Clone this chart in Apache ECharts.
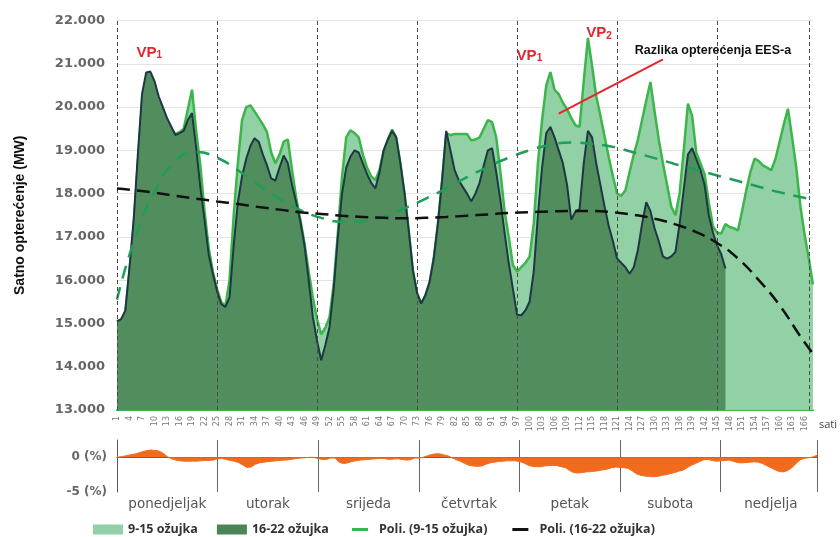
<!DOCTYPE html>
<html>
<head>
<meta charset="utf-8">
<script src="https://cdn.jsdelivr.net/npm/echarts@6/dist/echarts.min.js"></script>
<style>
  html, body { margin: 0; padding: 0; background: #ffffff; }
  #chart { width: 840px; height: 537px; }
</style>
</head>
<body>
<div id="chart"></div>
<script>
// Hour categories of the week (1..168) and day names for the lower panel
const hours = Array.from({ length: 168 }, (_, i) => String(i + 1));
const dayNames = ['ponedjeljak', 'utorak', 'srijeda', 'četvrtak', 'petak', 'subota', 'nedjelja'];

// Hourly system load, week 9-15 March (MW)
const load0915 = [
  15050, 15080, 15250, 16200, 17250, 18700, 20100, 20600, 20620, 20420,
  20100, 19900, 19700, 19500, 19380, 19420, 19500, 19950, 20400, 19450,
  18650, 17600, 16750, 16200, 15800, 15500, 15400, 16000, 17500, 18700,
  19700, 20000, 20040, 19900, 19750, 19600, 19420, 18950, 18700, 18900,
  19200, 19250, 18550, 17900, 17400, 16850, 16200, 15600, 15100, 14750,
  14900, 15150, 15900, 17100, 18400, 19300, 19460, 19400, 19300, 18900,
  18600, 18400, 18310, 18550, 19000, 19250, 19480, 19300, 18700, 18000,
  17150, 16230, 15700, 15460, 15650, 15950, 16500, 17300, 18300, 19400,
  19350, 19380, 19380, 19380, 19380, 19230, 19250, 19300, 19500, 19700,
  19650, 19300, 18500, 17600, 17000, 16350, 16200, 16300, 16400, 16540,
  17300, 18700, 19700, 20500, 20810, 20400, 20300, 20100, 19950, 19750,
  19580, 19540, 20600, 21600, 20950, 20250, 19800, 19320, 18840, 18400,
  18000, 17950, 18080, 18500, 18900, 19250, 19700, 20150, 20580, 19900,
  19250, 18700, 18200, 17700, 17500, 18000, 19000, 20080, 19800, 18950,
  18700, 18450, 17800, 17250, 17100, 17080, 17300, 17230, 17200, 17150,
  17600, 18080, 18500, 18810, 18750, 18650, 18600, 18540, 18800, 19200,
  19600, 19960, 19300, 18600, 17700, 17050, 16500, 15900
];

// Hourly system load, week 16-22 March (MW), available up to hour 147
const load1622 = [
  15050, 15100, 15300, 16300, 17400, 18900, 20300, 20800, 20820, 20600,
  20250, 20000, 19750, 19550, 19350, 19400, 19450, 19700, 19860, 19050,
  18150, 17400, 16600, 16150, 15750, 15450, 15380, 15600, 16800, 17800,
  18400, 18800, 19100, 19280, 19200, 18900, 18650, 18350, 18300, 18600,
  18880, 18700, 18200, 17800, 17350, 16800, 16000, 15150, 14600, 14150,
  14500, 14920, 15800, 17000, 18000, 18600, 18850, 19000, 18950, 18700,
  18450, 18250, 18120, 18500, 19000, 19250, 19450, 19300, 18700, 18000,
  17150, 16230, 15700, 15460, 15650, 15950, 16500, 17300, 18300, 19450,
  19000, 18550, 18310, 18150, 18000, 17820, 18000, 18250, 18650, 19000,
  19050, 18500, 17850, 17100, 16400, 15800, 15200, 15190, 15300, 15500,
  16200, 17500, 18600, 19400, 19540, 19300, 19000, 18700, 18200, 17400,
  17580, 17650, 18700, 19450, 19300, 18700, 18200, 17700, 17250, 16900,
  16500, 16400, 16300, 16150, 16300, 16700, 17300, 17800, 17600, 17200,
  16900, 16550, 16500, 16550, 16650, 17300, 18100, 18900, 19050, 18800,
  18550, 18200, 17500, 17100, 16800, 16600, 16270
];

// Hourly load difference between the weeks (%)
const diffPct = [
  0, 0.1, 0.2, 0.35, 0.45, 0.6, 0.8, 0.95, 1.05, 1.0,
  0.9, 0.6, 0.1, -0.2, -0.4, -0.5, -0.55, -0.55, -0.55, -0.55,
  -0.5, -0.45, -0.45, -0.4, -0.2, -0.15, -0.3, -0.45, -0.55, -0.75,
  -1.1, -1.45, -1.4, -1.0, -0.8, -0.7, -0.62, -0.55, -0.5, -0.45,
  -0.4, -0.35, -0.25, -0.15, -0.1, -0.05, 0, 0, -0.2, -0.3,
  -0.3, -0.1, -0.1, -0.7, -0.9, -0.8, -0.6, -0.5, -0.4, -0.35,
  -0.3, -0.25, -0.2, -0.15, -0.2, -0.3, -0.25, -0.2, -0.3, -0.4,
  -0.35, -0.1, -0.1, 0, 0.2, 0.4, 0.5, 0.5, 0.35, 0.2,
  -0.1, -0.35, -0.6, -0.9, -1.15, -1.25, -1.3, -1.25, -1.0, -0.8,
  -0.7, -0.6, -0.55, -0.5, -0.5, -0.5, -0.6, -0.8, -1.1, -1.3,
  -1.35, -1.35, -1.25, -1.2, -1.15, -1.2, -1.35, -1.5, -1.9, -2.2,
  -2.25, -2.2, -2.1, -2.05, -2.0, -1.9, -1.8, -1.7, -1.5, -1.4,
  -1.45, -1.5, -1.6, -2.0, -2.4, -2.6, -2.7, -2.75, -2.8, -2.75,
  -2.6, -2.5, -2.35, -2.2, -2.0, -1.85, -1.5, -1.15, -0.9, -0.6,
  -0.35, -0.3, -0.45, -0.55, -0.5, -0.45, -0.4, -0.55, -0.75, -0.8,
  -0.75, -0.7, -0.65, -0.7, -0.9, -1.2, -1.5, -1.8, -2.05, -2.1,
  -1.9, -1.5, -0.9, -0.35, -0.15, -0.05, 0.05, 0.3
];

// Polynomial trend lines, sampled at these hours
const trendHours = [1, 5, 10, 15, 20, 25, 30, 35, 40, 45, 50, 55, 60, 65, 70, 75, 80, 85,
  90, 95, 100, 105, 110, 115, 120, 125, 130, 135, 140, 145, 150, 155, 160, 165, 168];
const trend0915 = [15550, 16880, 18050, 18750, 18960, 18830, 18540, 18200, 17880, 17620,
  17440, 17350, 17360, 17460, 17660, 17880, 18120, 18380, 18620, 18830, 19000, 19130,
  19180, 19150, 19080, 18950, 18820, 18680, 18550, 18420, 18290, 18160, 18030, 17920, 17860];
const trend1622 = [18120, 18080, 18020, 17950, 17880, 17820, 17760, 17690, 17630, 17570,
  17530, 17490, 17460, 17440, 17430, 17440, 17460, 17490, 17520, 17550, 17570, 17590,
  17600, 17600, 17570, 17510, 17420, 17290, 17110, 16860, 16500, 16000, 15420, 14700, 14300];

// Hours where each day starts (dashed separators)
const dayStartHours = [1, 25, 49, 73, 97, 121, 145, 167];

const C = {
  lightFill: '#92d1a6',
  lightLine: '#3cb54a',
  darkFill: '#528d5e',
  darkLine: '#1d3744',
  polyGreen: '#1e9e57',
  polyBlack: '#111111',
  orange: '#f26b1d',
  red: '#e3262c'
};

const fmtThousands = v => Math.floor(v / 1000) + '.' + String(v % 1000).padStart(3, '0');
const trendPoints = vals => trendHours.map((h, i) => [hours[h - 1], vals[i]]);

const vpLabel = (idx) => ({
  show: true,
  formatter: '{a|VP}{b|' + idx + '}',
  rich: {
    a: { fontFamily: 'Liberation Sans', fontWeight: 'bold', fontSize: 15, color: C.red, lineHeight: 18, verticalAlign: 'bottom' },
    b: { fontFamily: 'Liberation Sans', fontWeight: 'bold', fontSize: 10, color: C.red, lineHeight: 14, verticalAlign: 'bottom' }
  }
});

const chart = echarts.init(document.getElementById('chart'), null, { renderer: 'canvas' });

chart.setOption({
  animation: false,
  backgroundColor: '#ffffff',
  grid: [
    { left: 117, right: 21, top: 20.5, height: 389.5 },
    { left: 117, right: 23, top: 440, height: 52 }
  ],
  legend: [
    {
      left: 88, top: 518, itemWidth: 30, itemHeight: 10, itemGap: 19,
      textStyle: { fontFamily: 'Open Sans', fontWeight: 'bold', fontSize: 12.5, color: '#333' },
      data: [
        { name: '9-15 ožujka', icon: 'rect', itemStyle: { color: C.lightFill } },
        { name: '16-22 ožujka', icon: 'rect', itemStyle: { color: '#4a8556' } }
      ]
    },
    {
      left: 347, top: 518, itemWidth: 16, itemHeight: 3, itemGap: 25,
      textStyle: { fontFamily: 'Open Sans', fontWeight: 'bold', fontSize: 12.5, color: '#333', padding: [0, 0, 0, 6] },
      data: [
        { name: 'Poli. (9-15 ožujka)', icon: 'rect', itemStyle: { color: C.lightLine } },
        { name: 'Poli. (16-22 ožujka)', icon: 'rect', itemStyle: { color: C.polyBlack } }
      ]
    }
  ],
  xAxis: [
    {
      gridIndex: 0, type: 'category', data: hours, boundaryGap: false,
      axisLine: { show: true, lineStyle: { color: C.lightLine, width: 2 } },
      axisTick: { show: false },
      axisLabel: { interval: 2, rotate: 90, fontSize: 8, color: '#777', margin: 6, fontFamily: 'DejaVu Sans' },
      splitLine: { show: false },
      name: 'sati', nameLocation: 'end', nameGap: 4,
      nameTextStyle: { fontFamily: 'Open Sans', fontSize: 11, color: '#444', verticalAlign: 'top', padding: [9, 0, 0, 2] }
    },
    {
      gridIndex: 1, type: 'category', data: hours, boundaryGap: false,
      axisLine: { show: true, lineStyle: { color: '#5a5a5a', width: 1 } },
      axisTick: { show: false },
      axisLabel: {
        interval: (i) => i % 24 === 12,
        formatter: (v, i) => dayNames[Math.floor(i / 24)],
        fontFamily: 'DejaVu Sans', fontSize: 13.5, color: '#555', margin: 5
      },
      splitLine: {
        show: true,
        interval: (i) => i > 0 && (i % 24 === 0 || i === 167),
        lineStyle: { color: '#666', width: 1 }
      }
    }
  ],
  yAxis: [
    {
      gridIndex: 0, type: 'value', min: 13000, max: 22000, interval: 1000,
      axisLine: { show: false }, axisTick: { show: false },
      axisLabel: { formatter: fmtThousands, fontFamily: 'DejaVu Sans', fontWeight: 'bold', fontSize: 13, color: '#666', margin: 12 },
      splitLine: { show: true, lineStyle: { color: '#e3e3e3', width: 1 } },
      name: 'Satno opterećenje (MW)', nameLocation: 'middle', nameGap: 90,
      nameTextStyle: { fontFamily: 'Liberation Sans', fontWeight: 'bold', fontSize: 14, color: '#111' }
    },
    {
      gridIndex: 1, type: 'value', min: -5, max: 2.5, interval: 5,
      axisLine: { show: true, lineStyle: { color: '#5a5a5a', width: 1 } },
      axisTick: { show: false },
      axisLabel: { formatter: v => v + ' (%)', showMaxLabel: false, fontFamily: 'DejaVu Sans', fontWeight: 'bold', fontSize: 12, color: '#666', margin: 10 },
      splitLine: { show: false }
    }
  ],
  series: [
    {
      name: '9-15 ožujka', type: 'line', xAxisIndex: 0, yAxisIndex: 0,
      data: load0915, symbol: 'none', z: 2,
      lineStyle: { color: C.lightLine, width: 2.5 },
      itemStyle: { color: C.lightFill },
      areaStyle: { color: C.lightFill, opacity: 1 }
    },
    {
      name: '16-22 ožujka', type: 'line', xAxisIndex: 0, yAxisIndex: 0,
      data: load1622, symbol: 'none', z: 3,
      lineStyle: { color: C.darkLine, width: 2 },
      itemStyle: { color: C.darkFill },
      areaStyle: { color: C.darkFill, opacity: 1 }
    },
    {
      name: 'Poli. (9-15 ožujka)', type: 'line', xAxisIndex: 0, yAxisIndex: 0,
      data: trendPoints(trend0915), smooth: 0.5, symbol: 'none', z: 4,
      lineStyle: { color: C.polyGreen, width: 2.5, type: [13, 9] },
      itemStyle: { color: C.lightLine }
    },
    {
      name: 'Poli. (16-22 ožujka)', type: 'line', xAxisIndex: 0, yAxisIndex: 0,
      data: trendPoints(trend1622), smooth: 0.5, symbol: 'none', z: 5,
      lineStyle: { color: C.polyBlack, width: 2.5, type: [13, 7] },
      itemStyle: { color: C.polyBlack },
      markLine: {
        silent: true, symbol: 'none', animation: false,
        label: { show: false },
        data: [
          ...dayStartHours.map(h => ({ xAxis: hours[h - 1], lineStyle: { color: '#4a4a4a', width: 1, type: [4, 3] } })),
          [
            { coord: [hours[131], 21100], lineStyle: { color: C.red, width: 2, type: 'solid' } },
            { coord: [hours[106], 19850] }
          ]
        ]
      },
      markPoint: {
        silent: true, symbol: 'circle', symbolSize: 1,
        itemStyle: { color: 'rgba(0,0,0,0)' },
        data: [
          { coord: [hours[8], load1622[8]], label: Object.assign(vpLabel(1), { offset: [-1, -20] }) },
          { coord: [hours[104], load0915[104]], label: Object.assign(vpLabel(1), { offset: [-21, -18] }) },
          { coord: [hours[113], load0915[113]], label: Object.assign(vpLabel(2), { offset: [11, -6] }) },
          {
            coord: [hours[143], 21300],
            label: {
              show: true, formatter: 'Razlika opterećenja EES-a',
              fontFamily: 'Liberation Sans', fontWeight: 'bold', fontSize: 12.5, color: '#111'
            }
          }
        ]
      }
    },
    {
      name: 'Razlika (%)', type: 'line', xAxisIndex: 1, yAxisIndex: 1,
      data: diffPct, symbol: 'none',
      lineStyle: { color: C.orange, width: 1 },
      areaStyle: { color: C.orange, opacity: 1 }
    }
  ]
});
</script>
</body>
</html>
